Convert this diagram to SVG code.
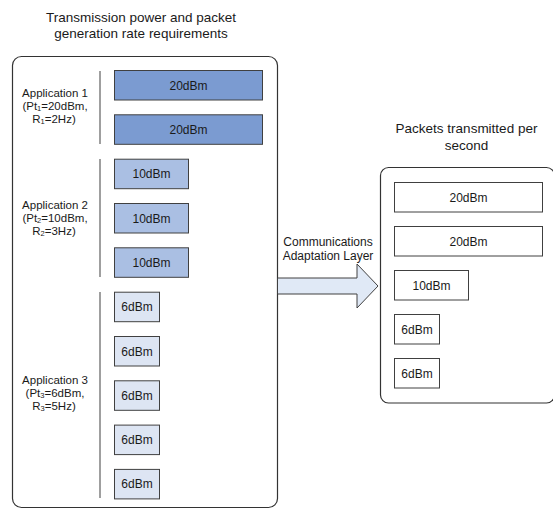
<svg xmlns="http://www.w3.org/2000/svg" width="553" height="510" viewBox="0 0 553 510">
<style>
text{font-family:"Liberation Sans",Arial,sans-serif;fill:#1a1a1a}
.title{font-size:13.5px;text-anchor:middle}
.lbl{font-size:12px;text-anchor:middle}
.app{font-size:11.5px;text-anchor:middle}
.bx{stroke:#404040;stroke-width:1}
.a1{fill:#7b9bd1}
.a2{fill:#aabfe3}
.a3{fill:#dde5f3}
.out{fill:#ffffff}
.cont{fill:none;stroke:#333333;stroke-width:1.2}
.div{stroke:#7f7f7f;stroke-width:1.5}
.sub{font-size:7.5px}
</style>
<rect width="553" height="510" fill="#ffffff"/>
<g id="left-container">
<rect class="cont" x="12.5" y="56.5" width="265" height="451" rx="9"/>
<text class="title" x="141" y="21.5">Transmission power and packet</text>
<text class="title" x="141" y="37.5">generation rate requirements</text>
</g>
<g id="app1">
<line class="div" x1="100" y1="71" x2="100" y2="144"/>
<text class="app" x="55" y="96.5">Application 1</text>
<text class="app" x="55" y="109.5">(Pt<tspan class="sub" dy="1">1</tspan><tspan dy="-1">=20dBm,</tspan></text>
<text class="app" x="54" y="122.5">R<tspan class="sub" dy="1">1</tspan><tspan dy="-1">=2Hz)</tspan></text>
</g>
<g id="app1-pkt1"><rect class="bx a1" x="114.5" y="70.5" width="148" height="29.5"/><text class="lbl" x="188.5" y="89.5">20dBm</text></g>
<g id="app1-pkt2"><rect class="bx a1" x="114.5" y="114.8" width="148" height="29.5"/><text class="lbl" x="188.5" y="133.8">20dBm</text></g>
<g id="app2">
<line class="div" x1="100" y1="159" x2="100" y2="277"/>
<text class="app" x="55" y="208.5">Application 2</text>
<text class="app" x="55" y="221.5">(Pt<tspan class="sub" dy="1">2</tspan><tspan dy="-1">=10dBm,</tspan></text>
<text class="app" x="54" y="234.5">R<tspan class="sub" dy="1">2</tspan><tspan dy="-1">=3Hz)</tspan></text>
</g>
<g id="app2-pkt1"><rect class="bx a2" x="114.5" y="159.2" width="74" height="29.5"/><text class="lbl" x="151.5" y="178.2">10dBm</text></g>
<g id="app2-pkt2"><rect class="bx a2" x="114.5" y="203.5" width="74" height="29.5"/><text class="lbl" x="151.5" y="222.5">10dBm</text></g>
<g id="app2-pkt3"><rect class="bx a2" x="114.5" y="247.8" width="74" height="29.5"/><text class="lbl" x="151.5" y="266.8">10dBm</text></g>
<g id="app3">
<line class="div" x1="100" y1="292" x2="100" y2="498"/>
<text class="app" x="55" y="383.5">Application 3</text>
<text class="app" x="55" y="396.5">(Pt<tspan class="sub" dy="1">3</tspan><tspan dy="-1">=6dBm,</tspan></text>
<text class="app" x="54" y="409.5">R<tspan class="sub" dy="1">3</tspan><tspan dy="-1">=5Hz)</tspan></text>
</g>
<g id="app3-pkt1"><rect class="bx a3" x="114.5" y="292.2" width="45" height="29.5"/><text class="lbl" x="137" y="311.2">6dBm</text></g>
<g id="app3-pkt2"><rect class="bx a3" x="114.5" y="336.5" width="45" height="29.5"/><text class="lbl" x="137" y="355.5">6dBm</text></g>
<g id="app3-pkt3"><rect class="bx a3" x="114.5" y="380.8" width="45" height="29.5"/><text class="lbl" x="137" y="399.8">6dBm</text></g>
<g id="app3-pkt4"><rect class="bx a3" x="114.5" y="425.1" width="45" height="29.5"/><text class="lbl" x="137" y="444.1">6dBm</text></g>
<g id="app3-pkt5"><rect class="bx a3" x="114.5" y="469.4" width="45" height="29.5"/><text class="lbl" x="137" y="488.4">6dBm</text></g>
<g id="connectors">
<path d="M277.5 278 H357 V264 L378 286 L357 308 V294 H277.5 Z" fill="#e0e9f6" stroke="#404040" stroke-width="1"/>
<text class="lbl" x="328" y="246">Communications</text>
<text class="lbl" x="328" y="260">Adaptation Layer</text>
</g>
<g id="right-container">
<rect class="cont" x="380.5" y="167.5" width="174" height="235.5" rx="8"/>
<text class="title" x="466.5" y="133">Packets transmitted per</text>
<text class="title" x="466.5" y="149.5">second</text>
</g>
<g id="out-pkt1"><rect class="bx out" x="394.5" y="182.5" width="148" height="29.5"/><text class="lbl" x="468.5" y="201.5">20dBm</text></g>
<g id="out-pkt2"><rect class="bx out" x="394.5" y="226.5" width="148" height="29.5"/><text class="lbl" x="468.5" y="245.5">20dBm</text></g>
<g id="out-pkt3"><rect class="bx out" x="394.5" y="270.5" width="74" height="29.5"/><text class="lbl" x="431.5" y="289.5">10dBm</text></g>
<g id="out-pkt4"><rect class="bx out" x="394.5" y="314.5" width="45" height="29.5"/><text class="lbl" x="417" y="333.5">6dBm</text></g>
<g id="out-pkt5"><rect class="bx out" x="394.5" y="358.5" width="45" height="29.5"/><text class="lbl" x="417" y="377.5">6dBm</text></g>
</svg>
